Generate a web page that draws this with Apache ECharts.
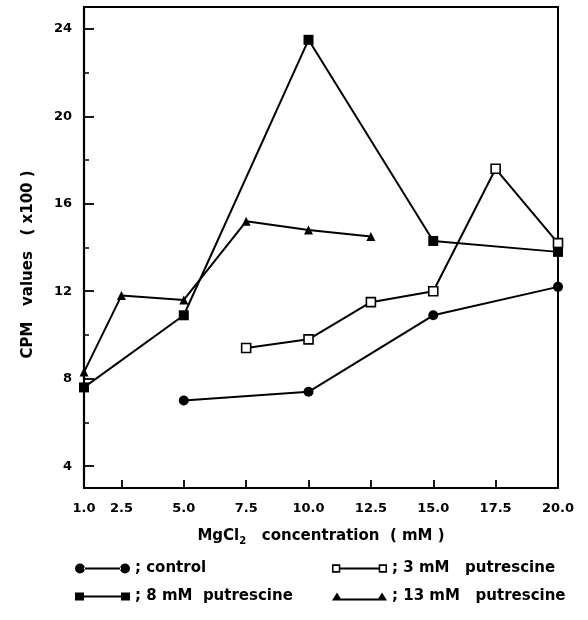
<!DOCTYPE html>
<html>
<head>
<meta charset="utf-8">
<script src="https://cdn.jsdelivr.net/npm/echarts@6/dist/echarts.min.js"></script>
<style>
html,body{margin:0;padding:0;background:#fff;}
#chart{width:588px;height:620px;}
</style>
</head>
<body>
<div id="chart"></div>
<script>
// ---- data ----
const seriesNames = ['control', '3 mM putrescine', '8 mM putrescine', '13 mM putrescine'];
const legendLabels = ['; control', '; 3 mM   putrescine', '; 8 mM  putrescine', '; 13 mM   putrescine'];

const xControl = [5, 10, 15, 20];
const yControl = [7.0, 7.4, 10.9, 12.2];

const x3mM = [7.5, 10, 12.5, 15, 17.5, 20];
const y3mM = [9.4, 9.8, 11.5, 12.0, 17.6, 14.2];

const x8mM = [1, 5, 10, 15, 20];
const y8mM = [7.6, 10.9, 23.5, 14.3, 13.8];

const x13mM = [1, 2.5, 5, 7.5, 10, 12.5];
const y13mM = [8.3, 11.8, 11.6, 15.2, 14.8, 14.5];

const xTickLabels = [1, 2.5, 5, 7.5, 10, 12.5, 15, 17.5, 20];
const xTicks = [2.5, 5, 7.5, 10, 12.5, 15, 17.5];
const yTickLabels = [4, 8, 12, 16, 20, 24];
const yMinorTicks = [6, 10, 14, 18, 22];

// ---- helpers ----
const FONT = 'DejaVu Sans';
function pairs(xs, ys) { return xs.map((x, i) => [x, ys[i]]); }

// legend icons: marker - line - marker
const iconCircle = 'path://M0,5 A5,5 0 1,0 10,5 A5,5 0 1,0 0,5 Z M45,5 A5,5 0 1,0 55,5 A5,5 0 1,0 45,5 Z M9,4 L46,4 L46,6 L9,6 Z';
const iconHollow = 'path://M1,1 L9,1 L9,9 L1,9 Z M2.5,2.5 L2.5,7.5 L7.5,7.5 L7.5,2.5 Z M46,1 L54,1 L54,9 L46,9 Z M47.5,2.5 L47.5,7.5 L52.5,7.5 L52.5,2.5 Z M9,4 L46,4 L46,6 L9,6 Z';
const iconSquare = 'path://M0,1 L9,1 L9,9 L0,9 Z M46,1 L55,1 L55,9 L46,9 Z M9,4 L46,4 L46,6 L9,6 Z';
const iconTri = 'path://M0,9 L5,1 L10,9 Z M45,9 L50,1 L55,9 Z M7,7 L48,7 L48,9 L7,9 Z';
const icons = [iconCircle, iconHollow, iconSquare, iconTri];
const legendPos = [[75, 561], [332, 561], [75, 589], [332, 589]];

const chart = echarts.init(document.getElementById('chart'));

const legends = seriesNames.map((n, i) => ({
  left: legendPos[i][0],
  top: legendPos[i][1],
  orient: 'horizontal',
  selectedMode: false,
  itemWidth: 55,
  itemHeight: 10,
  padding: 0,
  textStyle: { fontFamily: FONT, fontWeight: 'bold', fontSize: 15, color: '#000' },
  formatter: () => legendLabels[i],
  data: [{ name: n, icon: icons[i], itemStyle: { color: '#000', borderWidth: 0 } }]
}));

const lineStyle = { color: '#000', width: 2 };

const option = {
  backgroundColor: '#fff',
  animation: false,
  legend: legends,
  grid: {
    left: 84, right: 30, top: 7, bottom: 132,
    show: true, borderColor: '#000', borderWidth: 2, backgroundColor: 'transparent'
  },
  xAxis: {
    type: 'value', min: 1, max: 20,
    name: '{a|MgCl}{b|2}{a|   concentration  ( mM )}',
    nameLocation: 'middle', nameGap: 38,
    nameTextStyle: {
      color: '#000',
      rich: {
        a: { fontFamily: FONT, fontWeight: 'bold', fontSize: 15, color: '#000', lineHeight: 20 },
        b: { fontFamily: FONT, fontWeight: 'bold', fontSize: 10, color: '#000', lineHeight: 20, verticalAlign: 'bottom', padding: [8, 0, 0, 0] }
      }
    },
    axisLine: { lineStyle: { color: '#000', width: 2.2 } },
    axisTick: { inside: true, length: 8, customValues: xTicks, lineStyle: { color: '#000', width: 1.8 } },
    axisLabel: {
      customValues: xTickLabels, margin: 14,
      formatter: v => Number(v).toFixed(1),
      fontFamily: FONT, fontWeight: 'bold', fontSize: 13, color: '#000'
    },
    splitLine: { show: false }
  },
  yAxis: [
    {
      type: 'value', min: 3, max: 25,
      name: 'CPM   values   ( x100 )',
      nameLocation: 'middle', nameGap: 48,
      nameTextStyle: { fontFamily: FONT, fontWeight: 'bold', fontSize: 15, color: '#000', padding: [0, 34, 0, 0] },
      axisLine: { lineStyle: { color: '#000', width: 2.2 } },
      axisTick: { inside: true, length: 10, customValues: yTickLabels, lineStyle: { color: '#000', width: 1.8 } },
      axisLabel: { customValues: yTickLabels, margin: 12, fontFamily: FONT, fontWeight: 'bold', fontSize: 13, color: '#000' },
      splitLine: { show: false }
    },
    {
      type: 'value', min: 3, max: 25, position: 'left',
      axisLine: { show: false },
      axisTick: { show: true, inside: true, length: 5, customValues: yMinorTicks, lineStyle: { color: '#000', width: 1.5 } },
      axisLabel: { show: false },
      splitLine: { show: false }
    }
  ],
  series: [
    {
      name: seriesNames[0], type: 'line', data: pairs(xControl, yControl),
      symbol: 'circle', symbolSize: 10,
      itemStyle: { color: '#000' }, lineStyle
    },
    {
      name: seriesNames[1], type: 'line', data: pairs(x3mM, y3mM),
      symbol: 'rect', symbolSize: 9,
      itemStyle: { color: '#fff', borderColor: '#000', borderWidth: 1.6 }, lineStyle
    },
    {
      name: seriesNames[2], type: 'line', data: pairs(x8mM, y8mM),
      symbol: 'rect', symbolSize: 10,
      itemStyle: { color: '#000' }, lineStyle
    },
    {
      name: seriesNames[3], type: 'line', data: pairs(x13mM, y13mM),
      symbol: 'triangle', symbolSize: 9,
      itemStyle: { color: '#000' }, lineStyle
    }
  ]
};
chart.setOption(option);
</script>
</body>
</html>
